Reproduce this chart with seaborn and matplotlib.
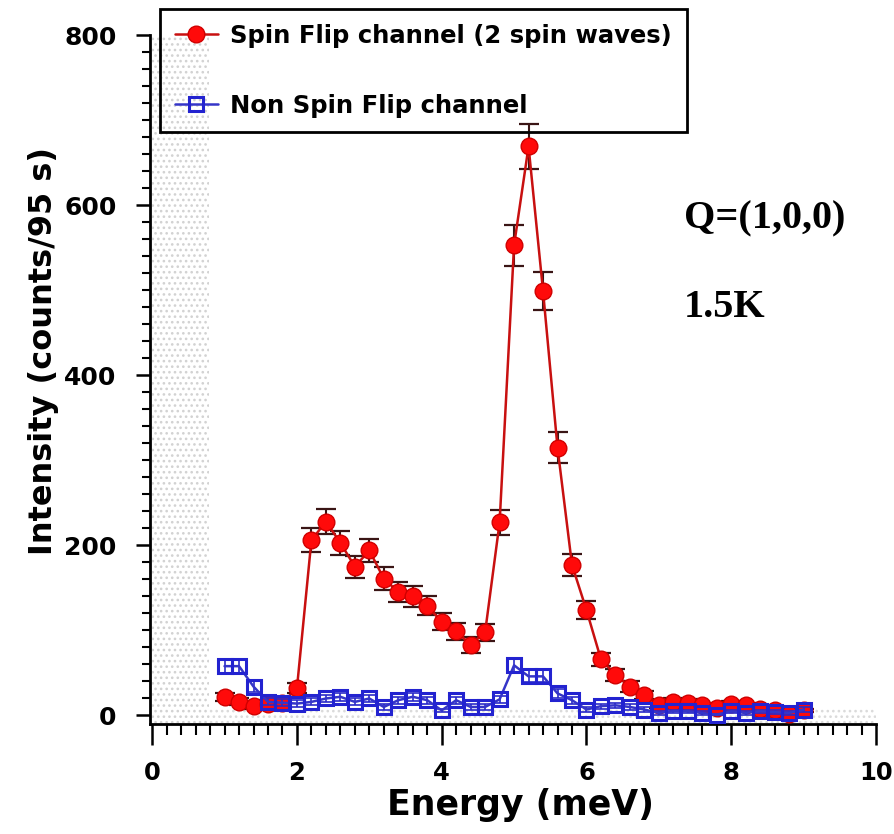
import matplotlib
matplotlib.use("Agg")
import matplotlib.pyplot as plt
import seaborn as sns
from matplotlib.ticker import MultipleLocator

# ---- data ----
energy = [1.0, 1.2, 1.4, 1.6, 1.8, 2.0, 2.2, 2.4, 2.6, 2.8,
          3.0, 3.2, 3.4, 3.6, 3.8, 4.0, 4.2, 4.4, 4.6, 4.8,
          5.0, 5.2, 5.4, 5.6, 5.8, 6.0, 6.2, 6.4, 6.6, 6.8,
          7.0, 7.2, 7.4, 7.6, 7.8, 8.0, 8.2, 8.4, 8.6, 8.8, 9.0]
sf_counts = [22, 16, 11, 14, 15, 32, 206, 228, 203, 175,
             194, 161, 145, 140, 129, 110, 99, 83, 98, 227,
             553, 669, 499, 315, 177, 124, 66, 48, 34, 24,
             12, 16, 15, 12, 9, 13, 12, 8, 7, 2, 6]
sf_err = [5, 4, 3, 4, 4, 6, 14, 15, 14, 13,
          14, 13, 12, 12, 11, 10, 10, 9, 10, 15,
          24, 26, 22, 18, 13, 11, 8, 7, 6, 5,
          3, 4, 4, 3, 3, 4, 3, 3, 3, 2, 2]
nsf_counts = [58, 58, 34, 16, 15, 14, 16, 20, 22, 16,
              20, 10, 18, 22, 18, 6, 18, 10, 10, 19,
              59, 46, 46, 26, 18, 7, 11, 12, 10, 7,
              3, 5, 5, 3, 1, 5, 3, 5, 4, 3, 7]
nsf_err = [8, 8, 6, 4, 4, 4, 4, 4, 5, 4,
           4, 3, 4, 5, 4, 2, 4, 3, 3, 4,
           8, 7, 7, 5, 4, 3, 3, 3, 3, 3,
           2, 2, 2, 2, 1, 2, 2, 2, 2, 2, 3]
x_ticks = [0, 2, 4, 6, 8, 10]
y_ticks = [0, 200, 400, 600, 800]
sf_label = "Spin Flip channel (2 spin waves)"
nsf_label = "Non Spin Flip channel"

sns.set_style("ticks")
plt.rcParams["font.family"] = ["DejaVu Sans"]
plt.rcParams["text.color"] = "black"
plt.rcParams["axes.labelcolor"] = "black"
plt.rcParams["xtick.color"] = "black"
plt.rcParams["ytick.color"] = "black"
plt.rcParams["hatch.linewidth"] = 1.1
plt.rcParams["hatch.color"] = "#d2d2d2"

fig = plt.figure(figsize=(8.94, 8.34), dpi=100)
ax = fig.add_axes([150 / 894, 1 - 724 / 834, 726 / 894, 689 / 834])

# shaded (dotted) regions
ax.fill_between([0.0, 0.78], -10, 800, facecolor="none", edgecolor="#d2d2d2",
                hatch="...", linewidth=0, zorder=0)
ax.fill_between([0.78, 10.0], -9, 8, facecolor="none", edgecolor="#dadada",
                hatch="...", linewidth=0, zorder=0)

# error bars
ax.errorbar(energy, sf_counts, yerr=sf_err, fmt="none", ecolor="#3a1515",
            elinewidth=1.5, capsize=7, capthick=1.6, zorder=3)
ax.errorbar(energy, nsf_counts, yerr=nsf_err, fmt="none", ecolor="#2a2ac8",
            elinewidth=1.2, capsize=4, capthick=1.2, zorder=5)

# series
sns.lineplot(x=energy, y=sf_counts, ax=ax, color="#c81010", linewidth=1.8,
             marker="o", markersize=12, markerfacecolor="#ff0a0a",
             markeredgecolor="#d00000", markeredgewidth=1.0,
             label=sf_label, zorder=4)
sns.lineplot(x=energy, y=nsf_counts, ax=ax, color="#3535c8", linewidth=1.8,
             marker="s", markersize=10, markerfacecolor="none",
             markeredgecolor="#2323d0", markeredgewidth=2.2,
             label=nsf_label, zorder=6)

# axes styling
ax.set_xlim(-0.03, 10)
ax.set_ylim(-10, 800)
ax.set_xticks(x_ticks)
ax.set_yticks(y_ticks)
ax.xaxis.set_minor_locator(MultipleLocator(0.2))
ax.yaxis.set_minor_locator(MultipleLocator(20))
for s in ["top", "right"]:
    ax.spines[s].set_visible(False)
for s in ["left", "bottom"]:
    ax.spines[s].set_linewidth(2)
    ax.spines[s].set_color("black")
ax.tick_params(axis="x", which="major", length=15, width=1.8, direction="out",
               pad=12, labelsize=17.5)
ax.tick_params(axis="x", which="minor", length=8, width=1.5, direction="out")
ax.tick_params(axis="y", which="major", length=10, width=1.8, direction="out",
               pad=14, labelsize=18)
ax.tick_params(axis="y", which="minor", length=6, width=1.5, direction="out")
for lab in ax.get_xticklabels() + ax.get_yticklabels():
    lab.set_fontweight("bold")

ax.set_xlabel("Energy (meV)", fontsize=25, fontweight="bold")
ax.set_ylabel("Intensity (counts/95 s)", fontsize=23, fontweight="bold")
ax.xaxis.set_label_coords(0.511, -0.093)
ax.yaxis.set_label_coords(-0.125, 0.541)

# annotations
ax.text(7.35, 573, "Q=(1,0,0)", family="Liberation Serif", fontweight="bold",
        fontsize=29, ha="left", va="baseline")
ax.text(7.35, 469, "1.5K", family="Liberation Serif", fontweight="bold",
        fontsize=29, ha="left", va="baseline")

# legend
handles, labels = ax.get_legend_handles_labels()
leg = ax.legend(handles, labels, loc="upper left",
                bbox_to_anchor=(160 / 894, 1 - 9 / 834),
                bbox_transform=fig.transFigure, fancybox=False,
                facecolor="none", edgecolor="black", framealpha=1,
                prop={"weight": "bold", "size": 17.5}, handlelength=1.8,
                handletextpad=0.5, labelspacing=1.9, borderpad=0.6,
                borderaxespad=0)
leg.get_frame().set_linewidth(2)

fig.savefig("out.png", dpi=100)
